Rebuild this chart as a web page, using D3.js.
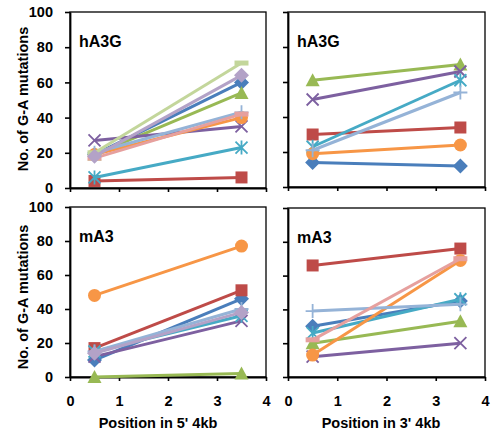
<!DOCTYPE html>
<html>
<head>
<meta charset="utf-8">
<script src="https://cdn.jsdelivr.net/npm/d3@7"></script>
<style>
  body { margin: 0; background: #fff; }
  svg text { font-family: "Liberation Sans", Arial, sans-serif; font-weight: bold; }
</style>
</head>
<body>
<div id="chart"></div>
<script>
// positions (kb) where mutations were counted
var xPositions = [0.5, 3.5];
var xTicks = [0, 1, 2, 3, 4];
var yTicks = [0, 20, 40, 60, 80, 100];

// one pair of values per series (null = series not shown in that panel)
// order: blue, red, green, purple, teal, orange, lightblue, pink, lightgreen, lavender
var hA3G_5 = [[19, 60], [4, 6], [19, 54], [27, 35], [6, 23], [19, 40], [20, 43], [17, 42], [20, 71], [18, 64]];
var hA3G_3 = [[14, 12], [30, 34], [61, 70], [50, 66], [23, 61], [19, 24], [21, 54], null, null, null];
var mA3_5  = [[10, 46], [17, 51], [0, 2], [12, 33], [15, 36], [48, 77], [15, 40], null, null, [14, 38]];
var mA3_3  = [[30, 45], [66, 76], [20, 33], [12, 20], [26, 46], [13, 69], [39, 43], [22, 70], null, null];

var colors = ["#4A7EBB", "#BE4B48", "#98B954", "#7D60A0", "#46AAC5", "#F79646", "#95B3D7", "#E6A09E", "#C3D69B", "#B3A2C7"];
var markers = ["diamond", "square", "triangle", "x", "star", "circle", "plus", "dash", "dash", "diamond"];

var width = 496, height = 434;
var svg = d3.select("#chart").append("svg").attr("width", width).attr("height", height);

var panels = [
  {data: hA3G_5, label: "hA3G", left: 70, right: 266, top: 12, bottom: 188, yLabels: true},
  {data: hA3G_3, label: "hA3G", left: 288, right: 485, top: 12, bottom: 187, yLabels: false},
  {data: mA3_5,  label: "mA3",  left: 70, right: 266, top: 207, bottom: 377, yLabels: true, xLabels: true},
  {data: mA3_3,  label: "mA3",  left: 288, right: 485, top: 208, bottom: 377, yLabels: false, xLabels: true}
];

function markerPath(type, s) {
  var h = s / 2;
  switch (type) {
    case "diamond": return "M0," + (-h - 1.5) + "L" + (h + 1.5) + ",0L0," + (h + 1.5) + "L" + (-h - 1.5) + ",0Z";
    case "square": return "M" + (-h) + "," + (-h) + "h" + s + "v" + s + "h" + (-s) + "Z";
    case "triangle": return "M0," + (-h - 1) + "L" + (h + 1) + "," + (h) + "L" + (-h - 1) + "," + (h) + "Z";
    case "x": return "M" + (-h) + "," + (-h) + "L" + h + "," + h + "M" + (-h) + "," + h + "L" + h + "," + (-h);
    case "star": return "M" + (-h) + "," + (-h) + "L" + h + "," + h + "M" + (-h) + "," + h + "L" + h + "," + (-h) + "M0," + (-h - 1) + "V" + (h + 1);
    case "plus": return "M" + (-h - 1) + ",0H" + (h + 1) + "M0," + (-h - 1) + "V" + (h + 1);
    case "dash": return "M" + (-h - 1) + ",-2.5h" + (s + 2) + "v5h" + (-s - 2) + "Z";
  }
  return "";
}
var filled = {diamond: true, square: true, triangle: true, dash: true};

panels.forEach(function(p) {
  var x = d3.scaleLinear().domain([0, 4]).range([p.left, p.right]);
  var y = d3.scaleLinear().domain([0, 100]).range([p.bottom, p.top]);
  var g = svg.append("g");

  // frame
  g.append("rect")
    .attr("x", p.left).attr("y", p.top)
    .attr("width", p.right - p.left).attr("height", p.bottom - p.top)
    .attr("fill", "none").attr("stroke", "#000").attr("stroke-width", 1.3);

  var yAxis = g.append("g")
    .attr("transform", "translate(" + p.left + ",0)")
    .call(d3.axisLeft(y).tickValues(yTicks).tickSize(5).tickSizeOuter(0).tickFormat(p.yLabels ? d3.format("d") : ""));
  yAxis.select(".domain").attr("stroke-width", 1.8);
  yAxis.selectAll(".tick line").attr("stroke-width", 1.6);
  yAxis.selectAll("text").attr("font-size", 14.5).attr("fill", "#000").attr("x", -17);

  var xAxis = g.append("g")
    .attr("transform", "translate(0," + p.bottom + ")")
    .call(d3.axisBottom(x).tickValues(xTicks).tickSize(4).tickSizeOuter(0).tickFormat(p.xLabels ? d3.format("d") : ""));
  xAxis.select(".domain").attr("stroke-width", 1.8);
  xAxis.selectAll(".tick line").attr("stroke-width", 1.6);
  xAxis.selectAll("text").attr("font-size", 14.5).attr("fill", "#000").attr("y", 19);

  g.append("text")
    .attr("x", p.left + 9).attr("y", p.top + 35)
    .attr("font-size", 16).attr("fill", "#000")
    .text(p.label);

  var line = d3.line()
    .x(function(d, i) { return x(xPositions[i]); })
    .y(function(d) { return y(d); });

  p.data.forEach(function(vals, si) {
    if (!vals) return;
    var c = colors[si];
    g.append("path")
      .attr("d", line(vals))
      .attr("fill", "none").attr("stroke", c).attr("stroke-width", 3);
    vals.forEach(function(v, i) {
      var m = markers[si];
      var mark;
      if (m === "circle") {
        mark = g.append("circle").attr("r", 6.5).attr("cx", x(xPositions[i])).attr("cy", y(v)).attr("fill", c);
      } else {
        mark = g.append("path")
          .attr("d", markerPath(m, 12))
          .attr("transform", "translate(" + x(xPositions[i]) + "," + y(v) + ")");
        if (filled[m]) mark.attr("fill", c);
        else mark.attr("fill", "none").attr("stroke", c).attr("stroke-width", 1.8);
      }
    });
  });
});

// axis titles
[99, 297].forEach(function(cy) {
  svg.append("text")
    .attr("transform", "translate(28," + cy + ") rotate(-90)")
    .attr("text-anchor", "middle").attr("font-size", 14.5).attr("fill", "#000")
    .text("No. of G-A mutations");
});
svg.append("text").attr("x", 158).attr("y", 428).attr("text-anchor", "middle")
  .attr("font-size", 14.5).attr("fill", "#000").text("Position in 5' 4kb");
svg.append("text").attr("x", 381).attr("y", 428).attr("text-anchor", "middle")
  .attr("font-size", 14.5).attr("fill", "#000").text("Position in 3' 4kb");
</script>
</body>
</html>
